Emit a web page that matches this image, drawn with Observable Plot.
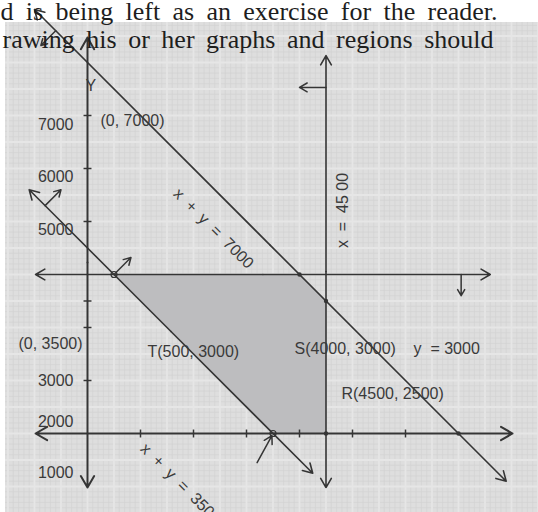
<!DOCTYPE html>
<html>
<head>
<meta charset="utf-8">
<script src="https://cdn.jsdelivr.net/npm/d3@7"></script>
<script src="https://cdn.jsdelivr.net/npm/@observablehq/plot@0.6"></script>
<style>
  html, body { margin: 0; padding: 0; background: #ffffff; }
  #chart svg { display: block; }
</style>
</head>
<body>
<div id="chart"></div>
<script>
// Running text of the page that the figure sits under
const pageLines = [
  "d is being left as an exercise for the reader.",
  "rawing his or her graphs and regions should"
];

// Constraint boundary lines (drawn with arrowheads at both ends)
const boundaryNames = ["x + y = 7000", "x + y = 3500", "x = 4500", "y = 3000"];
const boundaryStart = [[-1000, 8000], [-1100, 4600], [4500, 7130], [-980, 3000]];
const boundaryEnd   = [[7900, -900], [4250, -750], [4500, -1020], [7600, 3000]];

// Coordinate axes (horizontal and vertical)
const axisStart = [[-980, 0], [0, 7470]];
const axisEnd   = [[8020, 0], [0, -1020]];

// Short arrows showing the side of each inequality
const sideFrom = [[-600, 7600], [-800, 4300], [500, 3000], [3200, -550], [4500, 6530], [7050, 3000]];
const sideTo   = [[-880, 7320], [-500, 4600], [820, 3320], [3480, -40], [4000, 6530], [7050, 2600]];

// Feasible region corners
const feasible = [[500, 3000], [4000, 3000], [4500, 2500], [4500, 0], [3500, 0]];
const cornerDots = [[4000, 3000], [4500, 2500], [4500, 0], [7000, 0]];
const cornerRings = [[500, 3000], [3500, 0]];

// Tick positions on the axes
const xTicks = [1000, 2000, 3000, 4000, 5000, 6000];
const yTicks = [1000, 2000, 2500, 4000, 5000, 6000];

// Axis numbers as printed beside the vertical axis
const yLabelText = ["7000", "6000", "5000", "3000", "2000", "1000"];
const yLabelAt   = [5830, 4850, 3850, 1000, 210, -750];

// Point and line annotations
const pointLabels = [
  {text: "Y", x: -40, y: 6566, anchor: "start"},
  {text: "(0, 7000)", x: 245, y: 5906, anchor: "start"},
  {text: "(0, 3500)", x: -94, y: 1698, anchor: "end"},
  {text: "T(500, 3000)", x: 1132, y: 1547, anchor: "start"},
  {text: "S(4000, 3000)", x: 3906, y: 1604, anchor: "start"},
  {text: "y  = 3000", x: 6151, y: 1604, anchor: "start"},
  {text: "R(4500, 2500)", x: 4792, y: 755, anchor: "start"}
];
const lineLabels = [
  {text: "x  +  y  =  7000", x: 2377, y: 3868, rotate: 45},
  {text: "x  +  y  =  3500", x: 1755, y: -943, rotate: 45},
  {text: "x  =  45 00", x: 4811, y: 4208, rotate: -90}
];

// Build link tables from the named arrays
const seg = (a, b) => a.map((p, i) => ({x1: p[0], y1: p[1], x2: b[i][0], y2: b[i][1]}));
const boundaries = seg(boundaryStart, boundaryEnd);
const axes = seg(axisStart, axisEnd);
const sides = seg(sideFrom, sideTo);
// Double-headed: two arrows from each midpoint outward
const both = (segs) => segs.flatMap(s => {
  const mx = (s.x1 + s.x2) / 2, my = (s.y1 + s.y2) / 2;
  return [{x1: mx, y1: my, x2: s.x1, y2: s.y1}, {x1: mx, y1: my, x2: s.x2, y2: s.y2}];
});

// Graph-paper background
const paper = {x1: -1547, x2: 8520, y1: -1500, y2: 7755};
const minorX = d3.range(-1500, 8600, 100);
const minorY = d3.range(-1500, 7800, 100);
const majorX = minorX.filter(v => v % 500 === 0);
const majorY = minorY.filter(v => v % 500 === 0);

const ink = "#353535";
const textInk = "#3a3a3a";
const labelText = (anchor) => Plot.text(pointLabels.filter(d => d.anchor === anchor),
  {x: "x", y: "y", text: "text", textAnchor: anchor, fontSize: 16, fill: textInk});

const chart = Plot.plot({
  width: 538,
  height: 512,
  margin: 0,
  x: {domain: [-1641.5, 8509.4], axis: null},
  y: {domain: [-1490.6, 8169.8], axis: null},
  style: {background: "#ffffff", fontFamily: "'Liberation Sans', Arial, sans-serif"},
  marks: [
    Plot.rect([paper], {x1: "x1", x2: "x2", y1: "y1", y2: "y2", fill: "#dedede"}),
    Plot.ruleX(minorX, {y1: paper.y1, y2: paper.y2, stroke: "#d3d3d3", strokeWidth: 0.7}),
    Plot.ruleY(minorY, {x1: paper.x1, x2: paper.x2, stroke: "#d3d3d3", strokeWidth: 0.7}),
    Plot.ruleX(majorX, {y1: paper.y1, y2: paper.y2, stroke: "#e6e6e6", strokeWidth: 1.8}),
    Plot.ruleY(majorY, {x1: paper.x1, x2: paper.x2, stroke: "#e6e6e6", strokeWidth: 1.8}),

    // Feasible region
    Plot.line(feasible, {x: d => d[0], y: d => d[1], fill: "#bdbdbf", stroke: "none"}),

    // Axes and tick marks
    Plot.arrow(both(axes), {x1: "x1", y1: "y1", x2: "x2", y2: "y2", stroke: ink, strokeWidth: 2, headLength: 10}),
    Plot.link(xTicks, {x1: d => d, x2: d => d, y1: -75, y2: 75, stroke: ink, strokeWidth: 1.5}),
    Plot.link(yTicks, {y1: d => d, y2: d => d, x1: -75, x2: 75, stroke: ink, strokeWidth: 1.5}),

    // Constraint lines
    Plot.arrow(both(boundaries), {x1: "x1", y1: "y1", x2: "x2", y2: "y2", stroke: ink, strokeWidth: 1.6, headLength: 10}),
    Plot.arrow(sides, {x1: "x1", y1: "y1", x2: "x2", y2: "y2", stroke: ink, strokeWidth: 1.5, headLength: 9}),

    // Corner points
    Plot.dot(cornerDots, {x: d => d[0], y: d => d[1], r: 2.2, fill: ink, stroke: "none"}),
    Plot.dot(cornerRings, {x: d => d[0], y: d => d[1], r: 3, fill: "none", stroke: ink, strokeWidth: 1.2}),

    // Vertical axis numbers
    Plot.text(yLabelText, {x: -264, y: (d, i) => yLabelAt[i], text: d => d, textAnchor: "end", fontSize: 16, fill: textInk}),

    // Annotations
    labelText("start"),
    labelText("end"),
    Plot.text(lineLabels.filter(d => d.rotate === 45), {x: "x", y: "y", text: "text", rotate: 45, fontSize: 16, fill: textInk}),
    Plot.text(lineLabels.filter(d => d.rotate === -90), {x: "x", y: "y", text: "text", rotate: -90, fontSize: 16, fill: textInk}),

    // Page text above the figure
    Plot.text([pageLines[0]], {frameAnchor: "top-left", dx: 0, dy: 1.5, text: d => d, fontSize: 26, fontFamily: "'Liberation Serif', 'DejaVu Serif', serif", fill: "#1e1e1e", lineAnchor: "top"}),
    Plot.text([pageLines[1]], {frameAnchor: "top-left", dx: 2, dy: 29, text: d => d, fontSize: 26, fontFamily: "'Liberation Serif', 'DejaVu Serif', serif", fill: "#1e1e1e", lineAnchor: "top"})
  ]
});

document.getElementById("chart").append(chart);

// Keep spaces intact in the spaced-out labels
d3.select(chart).selectAll("text").style("white-space", "pre");

// Justify the page text to its column width
const columnEnds = [497, 493];
pageLines.forEach((line, i) => {
  d3.select(chart).selectAll("text").filter(function () { return this.textContent === line; })
    .each(function () {
      const spaces = line.split(" ").length - 1;
      const len = this.getComputedTextLength();
      const start = i === 0 ? 0 : 2;
      const extra = (columnEnds[i] - start - len) / spaces;
      this.style.wordSpacing = extra + "px";
    });
});
</script>
</body>
</html>
